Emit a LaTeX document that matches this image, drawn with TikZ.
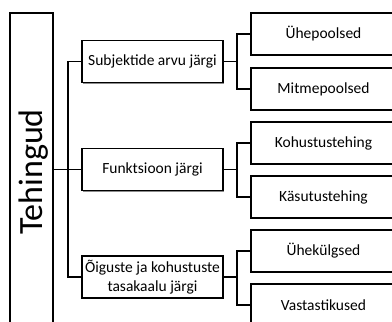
\documentclass[tikz,border=0pt]{standalone}
\usepackage{fontspec}
\setmainfont{Carlito}
\usetikzlibrary{shadows}
\begin{document}
\begin{tikzpicture}[x=1pt,y=-1pt,
  box/.style={draw=black, line width=1.7pt, fill=white, inner sep=1pt,
    align=center, font=\fontsize{15.5}{19.5}\selectfont,
    drop shadow={shadow xshift=1.2pt, shadow yshift=-1.2pt, fill=black, opacity=0.45}},
  sbox/.style={box, minimum width=141pt, minimum height=42pt},
  rbox/.style={box, minimum width=145pt, minimum height=42pt},
  conn/.style={draw=black, line width=1.4pt}]
\useasboundingbox (0,0) rectangle (392,322);
\node[box, minimum width=43pt, minimum height=318pt] (T) at (31.5,172) {};
\node[rotate=90, anchor=base, inner sep=0pt, font=\fontsize{34}{40}\selectfont] (Tl) at (42,172) {Tehingud};
\node[sbox] (S1) at (152.5,61.5) {Subjektide arvu järgi};
\node[sbox] (S2) at (152.5,169.5) {Funktsioon järgi};
\node[sbox] (S3) at (152.5,277) {Õiguste ja kohustuste\\tasakaalu järgi};
\node[rbox] (R1) at (323.5,34) {Ühepoolsed};
\node[rbox] (R2) at (323.5,89) {Mitmepoolsed};
\node[rbox] (R3) at (323.5,143) {Kohustustehing};
\node[rbox] (R4) at (323.5,197) {Käsutustehing};
\node[rbox] (R5) at (323.5,251) {Ühekülgsed};
\node[rbox] (R6) at (323.5,305) {Vastastikused};
\coordinate (j0) at (68,169.5);
\coordinate (j1) at (237,61.5);
\coordinate (j2) at (237,169.5);
\coordinate (j3) at (237,277);
\draw[conn] (T.east |- j0) -- (j0) -- (S2.west);
\draw[conn] (S1.west) -| (j0) |- (S3.west);
\draw[conn] (S1.east) -- (j1);
\draw[conn] (R1.west) -| (j1) |- (R2.west);
\draw[conn] (S2.east) -- (j2);
\draw[conn] (R3.west) -| (j2) |- (R4.west);
\draw[conn] (S3.east) -- (j3);
\draw[conn] (R5.west) -| (j3) |- (R6.west);
\end{tikzpicture}
\end{document}
